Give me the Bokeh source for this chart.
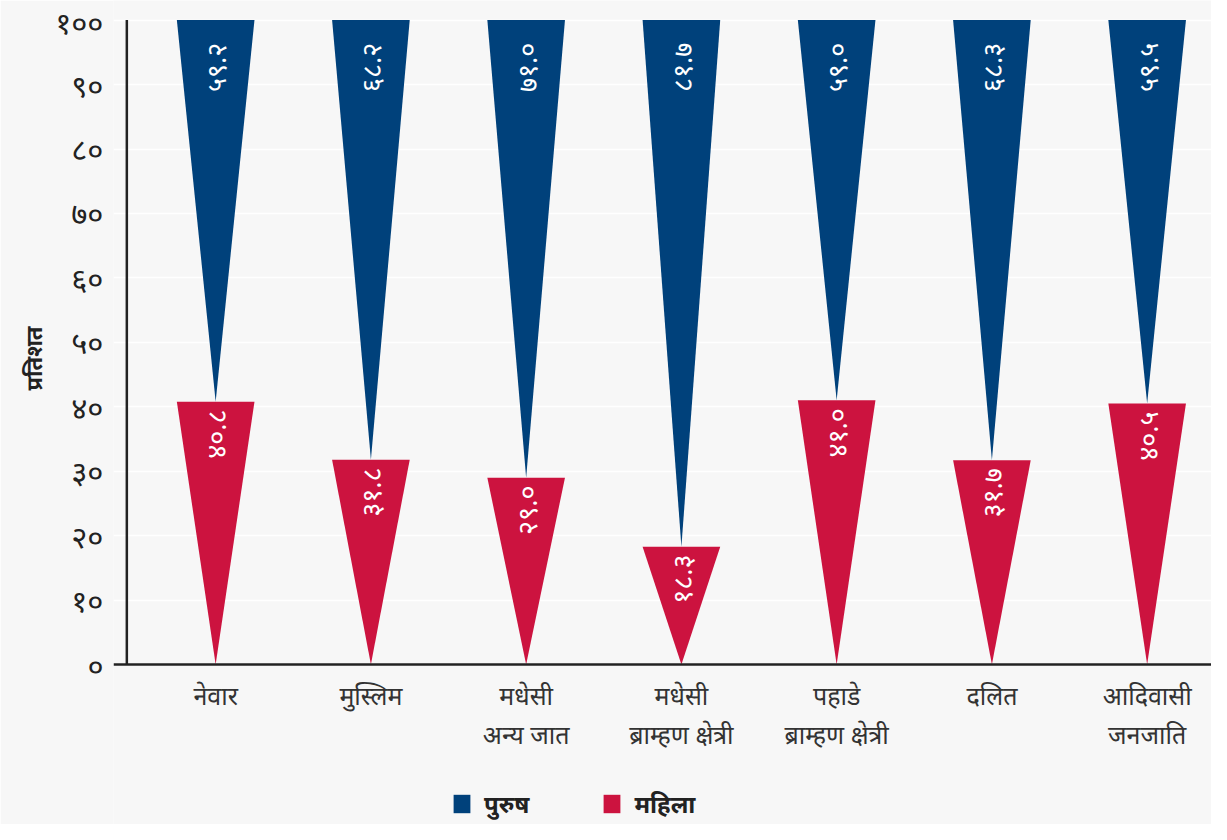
import math
from bokeh.plotting import figure
from bokeh.models import FixedTicker, Legend, LegendItem, Range1d, Title
from bokeh.core.properties import value
from bokeh.embed import file_html
from bokeh.resources import INLINE

# ---------------- data ----------------
categories = ["नेवार", "मुस्लिम", "मधेसी\nअन्य जात", "मधेसी\nब्राम्हण क्षेत्री",
              "पहाडे\nब्राम्हण क्षेत्री", "दलित", "आदिवासी\nजनजाति"]
male = [59.2, 68.2, 71.0, 81.7, 59.0, 68.3, 59.5]
female = [40.8, 31.8, 29.0, 18.3, 41.0, 31.7, 40.5]
y_ticks = [0, 10, 20, 30, 40, 50, 60, 70, 80, 90, 100]
y_tick_labels = ["०", "१०", "२०", "३०", "४०", "५०", "६०", "७०", "८०", "९०", "१००"]
legend_labels = ["पुरुष", "महिला"]
y_title = "प्रतिशत"

BLUE = "#00417b"
RED = "#cc133f"
BG = "#f7f7f7"
FONT = "Noto Sans"

DEV = str.maketrans("0123456789", "०१२३४५६७८९")


def dev(v):
    return f"{v:.1f}".translate(DEV)


# layout helpers: reference-pixel coordinates -> data units
W, H = 1211, 824
SX, SY = W / 1227, H / 840
PX_X, X0 = 157.3, 218.0      # reference px per category, centre of first category
PX_Y, Y0 = 6.57, 677.0       # reference px per percent, baseline y


def dx(px):
    return (px - X0) / PX_X


def dy(py):
    return (Y0 - py) / PX_Y


LEFT = 113
n = len(categories)
idx = list(range(n))
hw = 0.25

p = figure(width=W, height=H, output_backend="svg", toolbar_location=None,
           x_range=Range1d(dx(LEFT / SX), dx(1227)), y_range=Range1d(dy(840), dy(0)),
           x_axis_location=None, y_axis_location="left",
           min_border_left=LEFT, min_border_right=0, min_border_top=0, min_border_bottom=0)
p.background_fill_color = BG
p.border_fill_color = BG
p.outline_line_color = None

# axes / grid
p.yaxis.ticker = FixedTicker(ticks=y_ticks)
p.yaxis.major_label_overrides = dict(zip(y_ticks, y_tick_labels))
p.yaxis.axis_line_color = None
p.yaxis.major_tick_line_color = None
p.yaxis.minor_tick_line_color = None
p.yaxis.major_label_standoff = 4
p.yaxis.major_label_text_font = FONT
p.yaxis.major_label_text_font_size = "31px"
p.yaxis.major_label_text_color = "#222222"
p.xgrid.visible = False
p.ygrid.ticker = FixedTicker(ticks=y_ticks)
p.ygrid.grid_line_color = "#ffffff"
p.ygrid.grid_line_width = 1.5

# y title, placed as a left-side title so it can sit below the frame centre
p.add_layout(Title(text=y_title, align="left", offset=int(H - 397 * SY),
                   text_font=FONT, text_font_size="22px", text_font_style="bold",
                   text_color="#222222", standoff=10), "left")

# triangles
red_xs = [[i - hw, i + hw, i] for i in idx]
red_ys = [[f, f, 0] for f in female]
blue_xs = [[i - hw, i + hw, i] for i in idx]
blue_ys = [[100, 100, 100 - m] for m in male]

blue_r = p.patches(blue_xs, blue_ys, fill_color=BLUE, line_color=None)
red_r = p.patches(red_xs, red_ys, fill_color=RED, line_color=None)

# value labels (rotated, reading bottom-to-top)
p.text(x=idx, y=[dy(43)] * n, text=[dev(m) for m in male], angle=math.pi / 2,
       text_align="right", text_baseline="middle", text_color="white",
       text_font=value(FONT), text_font_size="27px")
p.text(x=idx, y=[f - 8 / PX_Y for f in female], text=[dev(f) for f in female],
       angle=math.pi / 2, text_align="right", text_baseline="middle", text_color="white",
       text_font=value(FONT), text_font_size="27px")

# axis lines
p.segment(x0=[dx(128)], y0=[0], x1=[dx(128)], y1=[100], line_color="#222222", line_width=2.5)
p.segment(x0=[dx(LEFT / SX)], y0=[0], x1=[dx(1227)], y1=[0], line_color="#222222", line_width=2.5)

# category labels
line1 = [c.split("\n")[0] for c in categories]
line2 = [c.split("\n")[1] if "\n" in c else "" for c in categories]
p.text(x=idx, y=[dy(708)] * n, text=line1, text_align="center", text_baseline="middle",
       text_color="#333333", text_font=value(FONT), text_font_size="25px")
p.text(x=idx, y=[dy(748)] * n, text=line2, text_align="center", text_baseline="middle",
       text_color="#333333", text_font=value(FONT), text_font_size="25px")

legend = Legend(items=[LegendItem(label=legend_labels[0], renderers=[blue_r]),
                       LegendItem(label=legend_labels[1], renderers=[red_r])],
                orientation="horizontal", location=(338, 4),
                glyph_width=21, glyph_height=23, label_standoff=12, spacing=72,
                padding=0, margin=0, border_line_color=None, background_fill_alpha=0,
                label_text_font=FONT, label_text_font_size="24px",
                label_text_font_style="bold", label_text_color="#222222", label_height=23)
p.add_layout(legend)

open("out.html", "w").write(file_html(p, INLINE))
